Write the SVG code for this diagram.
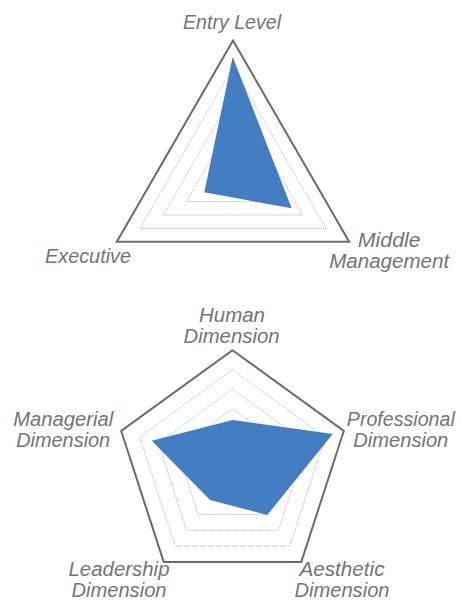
<svg xmlns="http://www.w3.org/2000/svg" width="462" height="601" viewBox="0 0 462 601">
<style>
.bg{fill:#ffffff}
.outer{fill:none;stroke:#6a6a6a;stroke-width:2;stroke-linejoin:miter}
.grid{fill:none;stroke:#b3b3b3;stroke-width:1;stroke-dasharray:1 1}
.data{fill:#427ec1;stroke:none}
.lbl{font-family:"Liberation Sans",Arial,sans-serif;font-style:italic;font-size:19.5px;fill:#747474;text-anchor:middle}
</style>
<rect class="bg" x="0" y="0" width="462" height="601"/>
<g id="chart-levels">
  <g id="triangle-grid">
    <polygon class="outer" points="233,40.5 349.2,241.8 116.8,241.8"/>
    <polygon class="grid" points="233,67.3 326,228.4 140,228.4"/>
    <polygon class="grid" points="233,94.2 302.7,215 163.3,215"/>
    <polygon class="grid" points="233,121 279.5,201.5 186.5,201.5"/>
  </g>
  <polygon id="triangle-data" class="data" points="232.7,56.7 291.7,208.3 204.3,192.3"/>
  <g id="pentagon-grid">
    <polygon class="outer" points="232.5,350.2 343.8,431 301.3,561.9 163.7,561.9 121.2,431"/>
    <polygon class="grid" points="232.5,369.7 325.2,437.1 289.8,546.1 175.2,546.1 139.8,437.1"/>
    <polygon class="grid" points="232.5,389.2 306.7,443.1 278.4,530.3 186.6,530.3 158.3,443.1"/>
    <polygon class="grid" points="232.5,408.7 288.1,449.1 266.9,514.5 198.1,514.5 176.9,449.1"/>
  </g>
  <polygon id="pentagon-data" class="data" points="232.7,420 332.7,434 267.3,515 210,500 151.7,440.7"/>
</g>
<g id="connectors"></g>
<g id="label-entry"><text class="lbl" x="232" y="29" textLength="98" lengthAdjust="spacingAndGlyphs">Entry Level</text></g>
<g id="label-executive"><text class="lbl" x="88" y="263" textLength="86" lengthAdjust="spacingAndGlyphs">Executive</text></g>
<g id="label-middle"><text class="lbl" x="389.2" y="247" textLength="63" lengthAdjust="spacingAndGlyphs">Middle</text><text class="lbl" x="389.2" y="268" textLength="120" lengthAdjust="spacingAndGlyphs">Management</text></g>
<g id="label-human"><text class="lbl" x="232" y="322" textLength="66" lengthAdjust="spacingAndGlyphs">Human</text><text class="lbl" x="231.5" y="342.5" textLength="96" lengthAdjust="spacingAndGlyphs">Dimension</text></g>
<g id="label-managerial"><text class="lbl" x="63.2" y="426" textLength="100" lengthAdjust="spacingAndGlyphs">Managerial</text><text class="lbl" x="63.2" y="447" textLength="94" lengthAdjust="spacingAndGlyphs">Dimension</text></g>
<g id="label-professional"><text class="lbl" x="400.8" y="426" textLength="108" lengthAdjust="spacingAndGlyphs">Professional</text><text class="lbl" x="400.8" y="447" textLength="95" lengthAdjust="spacingAndGlyphs">Dimension</text></g>
<g id="label-leadership"><text class="lbl" x="119" y="575.5" textLength="101" lengthAdjust="spacingAndGlyphs">Leadership</text><text class="lbl" x="119" y="596.5" textLength="95" lengthAdjust="spacingAndGlyphs">Dimension</text></g>
<g id="label-aesthetic"><text class="lbl" x="342" y="575.5" textLength="85" lengthAdjust="spacingAndGlyphs">Aesthetic</text><text class="lbl" x="342" y="596.5" textLength="95" lengthAdjust="spacingAndGlyphs">Dimension</text></g>
</svg>
